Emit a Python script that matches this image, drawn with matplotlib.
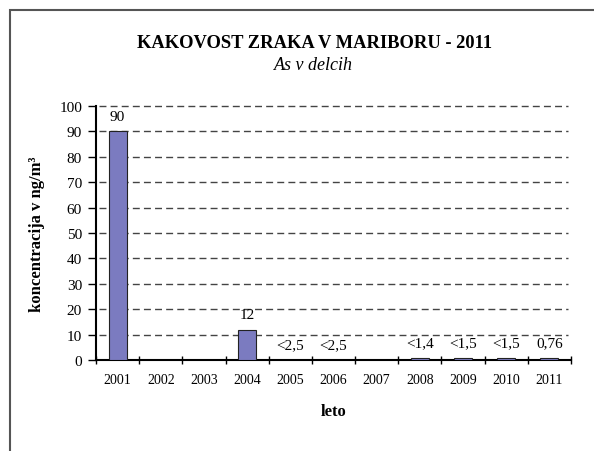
import matplotlib.pyplot as plt
import matplotlib.patches as mpatches
import numpy as np

# podatki
leta = ['2001', '2002', '2003', '2004', '2005', '2006', '2007', '2008', '2009', '2010', '2011']
vrednosti = [90, 0, 0, 12, 0, 0, 0, 0.8, 0.8, 0.8, 0.76]
oznake = ['90', '', '', '12', '<2,5', '<2,5', '', '<1,4', '<1,5', '<1,5', '0,76']

plt.rcParams['font.family'] = ['Liberation Serif', 'DejaVu Serif']

fig = plt.figure(figsize=(5.94, 4.52), dpi=100)
ax = fig.add_axes([96 / 594, 1 - 361 / 452, 475 / 594, 254 / 452])

x = np.arange(len(leta))
ax.bar(x, vrednosti, width=0.42, color='#7b7bc0', edgecolor='#222222', linewidth=0.8, zorder=3)

for xi, v, t in zip(x, vrednosti, oznake):
    if t:
        ax.annotate(t, (xi, v), xytext=(0, 11), textcoords='offset points',
                    ha='center', va='center', fontsize=11)

ax.set_xlim(-0.5, len(leta) - 0.5)
ax.set_ylim(0, 100)
ax.set_yticks(range(0, 101, 10))
ax.set_xticks(x)
ax.set_xticklabels(leta, fontsize=10)
ax.set_xticks(np.arange(-0.5, len(leta), 1), minor=True)
ax.tick_params(axis='x', which='major', length=0, pad=9.5)
ax.tick_params(axis='x', which='minor', direction='inout', length=6, width=1)
ax.tick_params(axis='y', labelsize=11, direction='out', length=6, width=1, pad=4)

for g in range(10, 101, 10):
    ax.plot([-0.42, len(leta) - 0.58], [g, g], color='#444444', lw=1,
            dashes=(5, 3), zorder=1, clip_on=False)

for s in ['top', 'right']:
    ax.spines[s].set_visible(False)
ax.spines['left'].set_linewidth(1.5)
ax.spines['bottom'].set_linewidth(1.5)

ax.set_xlabel('leto', fontsize=12, fontweight='bold', labelpad=12)
ax.set_ylabel('koncentracija v ng/m³', fontsize=12, fontweight='bold', labelpad=10)

fig.text(315 / 594, 1 - 43 / 452, 'KAKOVOST ZRAKA V MARIBORU - 2011',
         ha='center', va='center', fontsize=13.3, fontweight='bold')
fig.text(313 / 594, 1 - 65 / 452, 'As v delcih', ha='center', va='center',
         fontsize=13, style='italic')

# okvir
fig.patches.append(mpatches.Rectangle((10 / 594, -0.1), 1.2, 1 - 11 / 452 + 0.1,
                                      transform=fig.transFigure, fill=False,
                                      edgecolor='#555555', lw=1.5))

fig.savefig('out.png', dpi=100, facecolor='white')
